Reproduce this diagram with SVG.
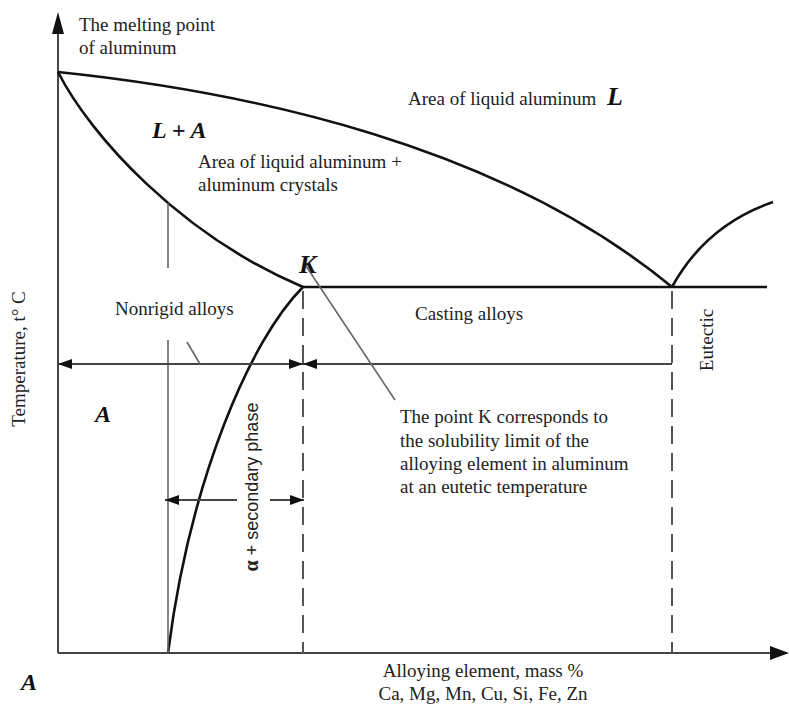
<svg xmlns="http://www.w3.org/2000/svg" width="789" height="704" viewBox="0 0 789 704">
<defs>
<style>
.t{font-family:"Liberation Serif","Times New Roman",serif;font-size:19px;fill:#222}
.big{font-family:"Liberation Serif","Times New Roman",serif;font-weight:bold;font-style:italic;fill:#111}
.sans{font-family:"Liberation Sans",Arial,sans-serif;font-size:18px;fill:#222}
.curve{fill:none;stroke:#111;stroke-width:2.6}
.axis{fill:none;stroke:#444;stroke-width:2}
.thin{fill:none;stroke:#666;stroke-width:1.6}
.dash{fill:none;stroke:#555;stroke-width:2;stroke-dasharray:18 9}
.dim{fill:none;stroke:#444;stroke-width:1.8}
</style>
<marker id="ah" markerWidth="14" markerHeight="10" refX="14" refY="5" orient="auto-start-reverse" markerUnits="userSpaceOnUse">
<path d="M0,0 L14,5 L0,10 Z" fill="#111"/>
</marker>
</defs>
<rect width="789" height="704" fill="#fff"/>

<g id="axes">
<line class="axis" x1="58" y1="653" x2="58" y2="30"/>
<path d="M58,12 L52,34 L64,34 Z" fill="#111"/>
<line class="axis" x1="58" y1="653" x2="772" y2="653"/>
<path d="M789,653 L770,646 L770,660 Z" fill="#111"/>
</g>

<g id="curves">
<path id="liquidus" class="curve" d="M58,72 C250,92 500,145 672,287"/>
<path id="liquidus-right" class="curve" d="M672,287 Q706,225 773,202"/>
<path id="solidus" class="curve" d="M58,72 C90,135 180,235 303,287"/>
<path id="solvus" class="curve" d="M303,287 C250,340 190,480 168,653"/>
<line id="eutectic-line" class="curve" x1="303" y1="287" x2="767" y2="287"/>
</g>

<g id="connectors">
<line class="dash" x1="303" y1="291" x2="303" y2="653"/>
<line class="dash" x1="672" y1="291" x2="672" y2="653"/>
<line class="thin" x1="168" y1="203" x2="168" y2="268"/>
<line class="thin" x1="168" y1="340" x2="168" y2="653"/>
<line class="dim" x1="303" y1="364" x2="58" y2="364" marker-end="url(#ah)"/>
<line class="dim" x1="72" y1="364" x2="303" y2="364" marker-end="url(#ah)"/>
<line class="dim" x1="303" y1="364" x2="672" y2="364" marker-start="url(#ah)"/>
<line class="thin" x1="187" y1="342" x2="200" y2="364"/>
<line class="dim" x1="237" y1="500" x2="165" y2="500" marker-end="url(#ah)"/>
<line class="dim" x1="270" y1="500" x2="304" y2="500" marker-end="url(#ah)"/>
<line class="thin" x1="306" y1="266" x2="395" y2="400" stroke-width="1.4"/>
</g>

<g id="labels">
<text class="t" x="79" y="31">The melting point</text>
<text class="t" x="79" y="54">of aluminum</text>
<text class="t" x="408" y="105">Area of liquid aluminum</text>
<text class="big" x="607" y="105" font-size="26">L</text>
<text class="big" x="152" y="138" font-size="24">L + A</text>
<text class="t" x="198" y="168">Area of liquid aluminum +</text>
<text class="t" x="198" y="191">aluminum crystals</text>
<text class="big" x="299" y="273" font-size="26">K</text>
<text class="t" x="115" y="315">Nonrigid alloys</text>
<text class="t" x="415" y="320">Casting alloys</text>
<text class="t" transform="translate(713,340) rotate(-90)" text-anchor="middle">Eutectic</text>
<text class="t" transform="translate(25,359) rotate(-90)" text-anchor="middle" font-size="17.5">Temperature, t° C</text>
<text class="big" x="95" y="422" font-size="24">A</text>
<text class="sans" transform="translate(258,487) rotate(-90)" text-anchor="middle"><tspan font-family="Liberation Serif, serif" font-weight="bold" font-size="20">α</tspan> + secondary phase</text>
<text class="t" x="400" y="423">The point K corresponds to</text>
<text class="t" x="400" y="447">the solubility limit of the</text>
<text class="t" x="400" y="470">alloying element in aluminum</text>
<text class="t" x="400" y="493">at an eutetic temperature</text>
<text class="big" x="21" y="690" font-size="24">A</text>
<text class="t" x="483" y="677" text-anchor="middle">Alloying element, mass %</text>
<text class="t" x="483" y="700" text-anchor="middle">Ca, Mg, Mn, Cu, Si, Fe, Zn</text>
</g>
</svg>
